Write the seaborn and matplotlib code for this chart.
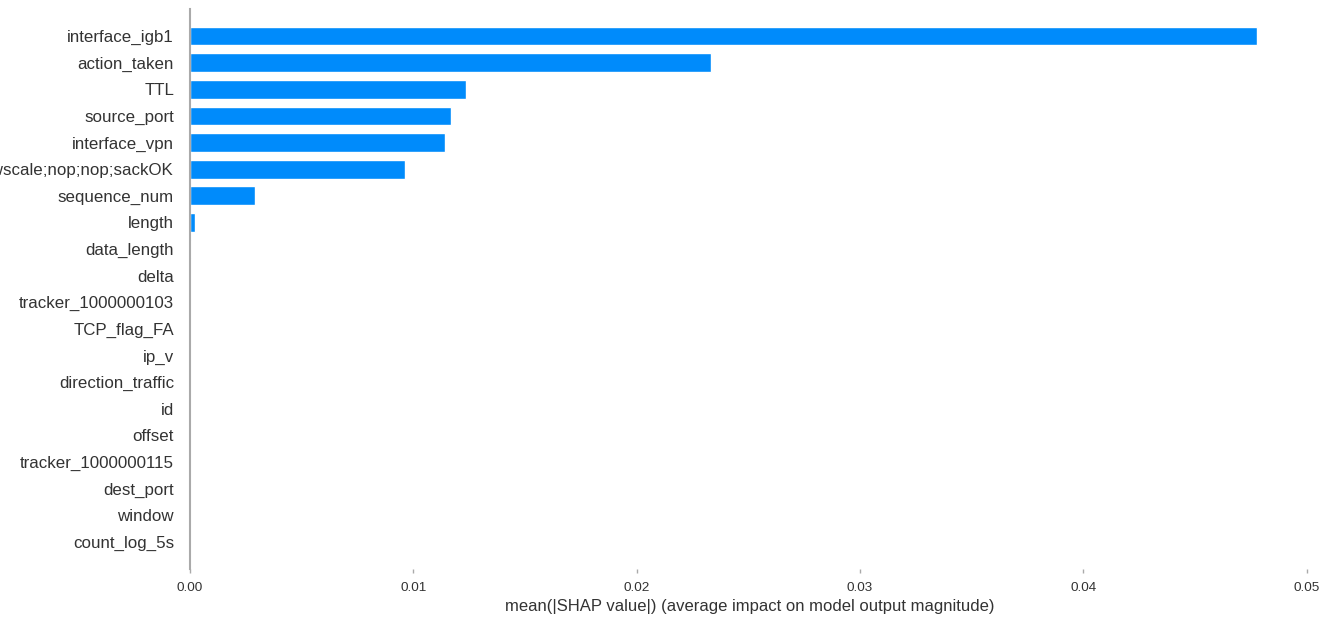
import matplotlib
matplotlib.use("Agg")
import matplotlib.pyplot as plt
import seaborn as sns
import pandas as pd

features = [
    "interface_igb1", "action_taken", "TTL", "source_port", "interface_vpn",
    "mss;nop;wscale;nop;nop;sackOK", "sequence_num", "length", "data_length",
    "delta", "tracker_1000000103", "TCP_flag_FA", "ip_v", "direction_traffic",
    "id", "offset", "tracker_1000000115", "dest_port", "window", "count_log_5s",
]
mean_abs_shap = [
    0.04779, 0.02333, 0.01237, 0.01170, 0.01140,
    0.00963, 0.00293, 0.00022, 0.00006,
    0.00002, 0.00002, 0.000005, 0.000004, 0.000003,
    0.000002, 0.000002, 0.000001, 0.000001, 0.000001, 0.000001,
]
x_label = "mean(|SHAP value|) (average impact on model output magnitude)"

sns.set_theme(style="white")
plt.rcParams["font.family"] = ["Liberation Sans", "DejaVu Sans"]

df = pd.DataFrame({"feature": features, "value": mean_abs_shap})

fig = plt.figure(figsize=(13.36, 6.2), dpi=100)
ax = fig.add_axes([0.1422, 0.0829, 0.8383, 0.9019])

sns.barplot(data=df, y="feature", x="value", orient="h", color="#008bfb",
            saturation=1, width=0.7, ax=ax, order=features)

ax.set_ylim(len(features), -1)
ax.set_xlim(0, 0.05015)
ax.set_xticks([0, 0.01, 0.02, 0.03, 0.04, 0.05])
ax.set_xticklabels(["0.00", "0.01", "0.02", "0.03", "0.04", "0.05"])

for s in ["top", "right", "bottom"]:
    ax.spines[s].set_visible(False)
ax.spines["left"].set_color("#aaaaaa")
ax.spines["left"].set_linewidth(1.5)

ax.tick_params(axis="y", length=0, labelsize=12.2, labelcolor="#333333", pad=11.5)
ax.tick_params(axis="x", bottom=True, length=3, width=1, color="#aaaaaa",
               labelsize=9.7, labelcolor="#333333", pad=7)
ax.set_ylabel("")
ax.set_xlabel(x_label, fontsize=12, color="#333333", labelpad=3)

fig.savefig("out.png", dpi=100)
